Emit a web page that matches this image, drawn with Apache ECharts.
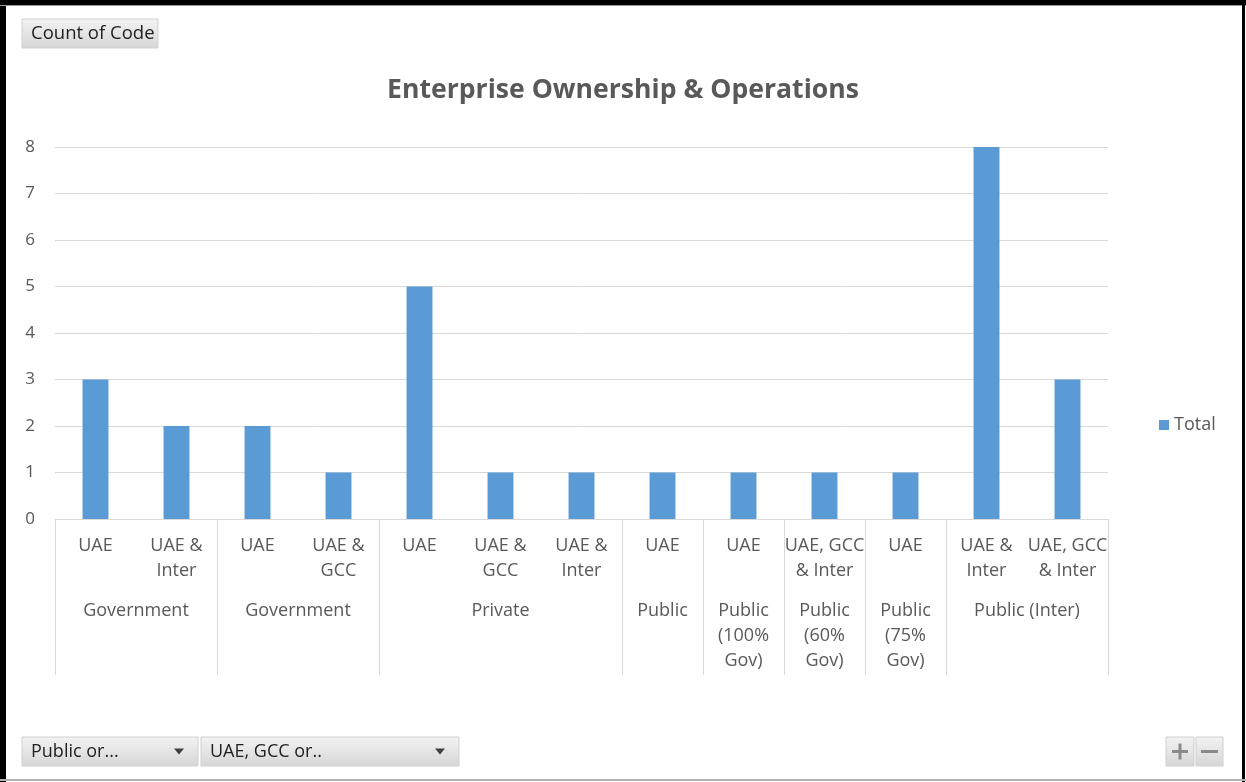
<!DOCTYPE html>
<html>
<head>
<meta charset="utf-8">
<script src="https://cdn.jsdelivr.net/npm/echarts@6/dist/echarts.min.js"></script>
<style>
html,body{margin:0;padding:0;background:#fff;}
#chart{width:1246px;height:782px;}
</style>
</head>
<body>
<div id="chart"></div>
<script>
// ---- data ----
const leafCategories = ['UAE','UAE &\nInter','UAE','UAE &\nGCC','UAE','UAE &\nGCC','UAE &\nInter','UAE','UAE','UAE, GCC\n& Inter','UAE','UAE &\nInter','UAE, GCC\n& Inter'];
const groupLabels = ['Government','Government','Private','Public','Public\n(100%\nGov)','Public\n(60%\nGov)','Public\n(75%\nGov)','Public (Inter)'];
const groupSizes = [2,2,3,1,1,1,1,2];
const totalValues = [3,2,2,1,5,1,1,1,1,1,1,8,3];
const yTicks = [0,1,2,3,4,5,6,7,8];
const seriesName = 'Total';
const chartTitle = 'Enterprise Ownership & Operations';

// ---- derived structures ----
const groupStarts = new Set();
const groupCenterLabel = {};
let acc = 0;
groupSizes.forEach((s, i) => {
  groupStarts.add(acc);
  groupCenterLabel[acc * 2 + s] = groupLabels[i]; // in half-category units
  acc += s;
});
const nLeaf = leafCategories.length;

const gray = '#595959';
const font = 'Open Sans';

function btn(x, y, w, h, text, arrow, fs) {
  const els = [{
    type: 'rect', shape: {x: x, y: y, width: w, height: h},
    style: {
      fill: new echarts.graphic.LinearGradient(0, 0, 0, 1, [{offset: 0, color: '#f3f3f3'}, {offset: 1, color: '#d6d6d6'}]),
      stroke: '#d0d0d0', lineWidth: 1
    }, silent: true
  }];
  if (text) els.push({type: 'text', x: x + 9, y: y + h / 2, style: {text: text, fill: '#1f1f1f', font: (fs || 17) + 'px "' + font + '"', verticalAlign: 'middle', textAlign: 'left'}, silent: true});
  if (arrow) els.push({type: 'polygon', shape: {points: [[x + w - 24, y + h / 2 - 3], [x + w - 14, y + h / 2 - 3], [x + w - 19, y + h / 2 + 3]]}, style: {fill: '#404040'}, silent: true});
  return els;
}

const graphics = [].concat(
  btn(22, 19, 136, 29, 'Count of Code', false, 18.5),
  btn(22, 737, 176, 29, 'Public or...', true, 18),
  btn(201, 737, 258, 29, 'UAE, GCC or..', true, 18),
  btn(1166, 737, 28, 29, null, false),
  btn(1196, 737, 27, 29, null, false),
  [
    {type: 'rect', shape: {x: 1172, y: 750, width: 16, height: 3}, style: {fill: '#8a8a8a'}, silent: true},
    {type: 'rect', shape: {x: 1178.5, y: 743.5, width: 3, height: 16}, style: {fill: '#8a8a8a'}, silent: true},
    {type: 'rect', shape: {x: 1201, y: 750, width: 17, height: 3}, style: {fill: '#8a8a8a'}, silent: true},
    // frame
    {type: 'rect', shape: {x: 0, y: 0, width: 6, height: 782}, style: {fill: '#000'}, silent: true},
    {type: 'rect', shape: {x: 0, y: 0, width: 1246, height: 5}, style: {fill: '#000'}, silent: true},
    {type: 'rect', shape: {x: 0, y: 5, width: 1246, height: 1}, style: {fill: '#9a9a9a'}, silent: true},
    {type: 'rect', shape: {x: 1242, y: 0, width: 3, height: 782}, style: {fill: '#000'}, silent: true},
    {type: 'rect', shape: {x: 0, y: 779, width: 1246, height: 2}, style: {fill: '#b0b0b0'}, silent: true}
  ]
);

const chart = echarts.init(document.getElementById('chart'), null, {renderer: 'canvas'});
chart.setOption({
  animation: false,
  backgroundColor: '#fff',
  title: {
    text: chartTitle, left: 'center', top: 72,
    textStyle: {fontFamily: font, fontWeight: 'bold', fontSize: 26.6, color: gray}
  },
  legend: {
    data: [seriesName], left: 1154, top: 411, orient: 'vertical',
    icon: 'rect', itemWidth: 10, itemHeight: 10, itemGap: 5,
    textStyle: {fontFamily: font, fontSize: 18, color: gray}
  },
  grid: {left: 55, right: 138, top: 147, bottom: 263, containLabel: false},
  xAxis: [{
    type: 'category', data: leafCategories, position: 'bottom',
    axisLine: {show: true, lineStyle: {color: '#d9d9d9', width: 1}},
    axisTick: {show: true, length: 156, interval: (idx) => groupStarts.has(idx), lineStyle: {color: '#d9d9d9', width: 1}},
    axisLabel: {interval: 0, margin: 14, fontFamily: font, fontSize: 18, color: gray, lineHeight: 25},
    splitLine: {show: false}
  }, {
    type: 'value', min: 0, max: nLeaf * 2, interval: 1, position: 'bottom',
    axisLine: {show: false}, axisTick: {show: false}, splitLine: {show: false},
    axisLabel: {
      margin: 79, fontFamily: font, fontSize: 18, color: gray, lineHeight: 25,
      showMinLabel: true, showMaxLabel: true,
      formatter: (v) => groupCenterLabel[Math.round(v)] || ''
    }
  }],
  yAxis: {
    type: 'value', min: yTicks[0], max: yTicks[yTicks.length - 1], interval: 1,
    axisLine: {show: false}, axisTick: {show: false},
    splitLine: {lineStyle: {color: '#d9d9d9', width: 1}},
    axisLabel: {margin: 20, fontFamily: font, fontSize: 17, color: gray,
      formatter: (v) => yTicks.includes(v) ? String(v) : ''}
  },
  series: [{
    name: seriesName, type: 'bar', data: totalValues, xAxisIndex: 0,
    barWidth: '32%', itemStyle: {color: '#5b9bd5'}
  }],
  graphic: graphics
});
</script>
</body>
</html>
